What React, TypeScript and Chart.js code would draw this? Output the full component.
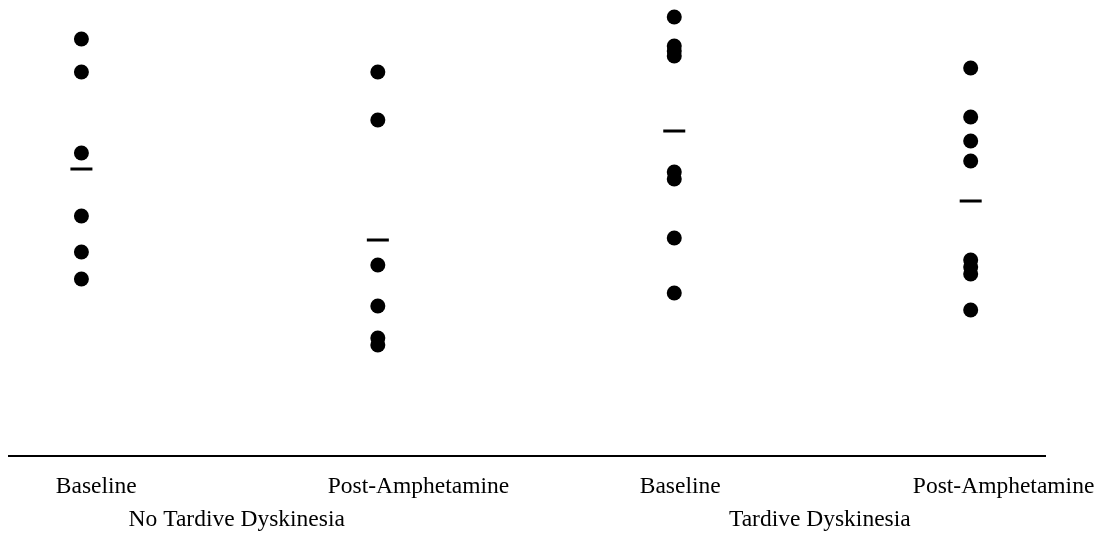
import React, { useEffect, useRef } from 'react';
import { Chart, registerables } from 'chart.js';

Chart.register(...registerables);

// Categories (x positions 1..4) and their tick labels
const categoryX = [1, 2, 3, 4];
const categoryLabels = ['Baseline', 'Post-Amphetamine', 'Baseline', 'Post-Amphetamine'];
const categoryLabelX = [1.05, 2.137, 3.02, 4.111];

// Group labels under the category labels
const groupLabels = ['No Tardive Dyskinesia', 'Tardive Dyskinesia'];
const groupLabelX = [1.524, 3.491];

// Individual values (arbitrary units)
const noTdBaseline = [41.7, 38.4, 30.3, 24.0, 20.4, 17.7];
const noTdPost = [38.4, 33.6, 19.1, 15.0, 11.8, 11.1];
const tdBaseline = [43.9, 41.0, 40.5, 40.0, 28.4, 27.7, 21.8, 16.3];
const tdPost = [38.8, 33.9, 31.5, 29.5, 19.6, 18.9, 18.2, 14.6];

// Group means (the short horizontal dashes)
const groupMeans = [28.7, 21.6, 32.5, 25.5];

const seriesValues = [noTdBaseline, noTdPost, tdBaseline, tdPost];

const X_MIN = 0.7557;
const X_MAX = 4.2507;
const Y_MIN = 0;
const Y_MAX = 45;

const FONT_FAMILY = '"Liberation Serif", "Times New Roman", serif';

export default function App() {
  const canvasRef = useRef<HTMLCanvasElement | null>(null);

  useEffect(() => {
    if (!canvasRef.current) return;

    const dots: { x: number; y: number }[] = [];
    seriesValues.forEach((vals, i) => {
      vals.forEach((v) => dots.push({ x: categoryX[i], y: v }));
    });
    const means = groupMeans.map((m, i) => ({ x: categoryX[i], y: m }));

    const chart = new Chart(canvasRef.current, {
      type: 'scatter',
      data: {
        datasets: [
          {
            label: 'Individual',
            data: dots,
            pointStyle: 'circle',
            pointRadius: 7.5,
            pointHoverRadius: 7.5,
            pointBorderWidth: 0,
            backgroundColor: '#000',
            borderColor: '#000',
            showLine: false,
            clip: false as any,
          },
          {
            label: 'Mean',
            data: means,
            pointStyle: 'line',
            pointRadius: 11,
            pointHoverRadius: 11,
            pointBorderWidth: 3,
            borderColor: '#000',
            backgroundColor: '#000',
            showLine: false,
            clip: false as any,
          },
        ],
      },
      options: {
        responsive: false,
        animation: false,
        events: [],
        layout: { autoPadding: false, padding: { top: 6, left: 9, right: 55, bottom: 0 } },
        plugins: {
          legend: { display: false },
          tooltip: { enabled: false },
        },
        scales: {
          x: {
            type: 'linear',
            position: 'bottom',
            weight: 0,
            min: X_MIN,
            max: X_MAX,
            grid: { display: false, drawTicks: true, tickLength: 16.9 },
            border: { display: true, color: '#000', width: 2 },
            afterBuildTicks: (scale: any) => {
              scale.ticks = categoryLabelX.map((v) => ({ value: v }));
            },
            ticks: {
              autoSkip: false,
              maxRotation: 0,
              minRotation: 0,
              padding: 0,
              color: '#000',
              font: { family: FONT_FAMILY, size: 23.5, lineHeight: 1.2 },
              callback: (_v: any, i: number) => categoryLabels[i],
            },
          },
          x2: {
            type: 'linear',
            position: 'bottom',
            weight: 1,
            min: X_MIN,
            max: X_MAX,
            grid: { display: false, drawTicks: true, tickLength: 4.9 },
            border: { display: false },
            afterBuildTicks: (scale: any) => {
              scale.ticks = groupLabelX.map((v) => ({ value: v }));
            },
            ticks: {
              autoSkip: false,
              maxRotation: 0,
              minRotation: 0,
              padding: 0,
              color: '#000',
              font: { family: FONT_FAMILY, size: 23.5, lineHeight: 1.191 },
              callback: (_v: any, i: number) => groupLabels[i],
            },
          },
          y: {
            display: false,
            min: Y_MIN,
            max: Y_MAX,
            grid: { display: false },
            ticks: { display: false },
          },
        },
      } as any,
    });

    return () => chart.destroy();
  }, []);

  return (
    <div style={{ position: 'absolute', left: 0, top: 0, width: 1100, height: 534, background: '#fff' }}>
      <canvas ref={canvasRef} width={1100} height={534} style={{ display: 'block' }} />
    </div>
  );
}
